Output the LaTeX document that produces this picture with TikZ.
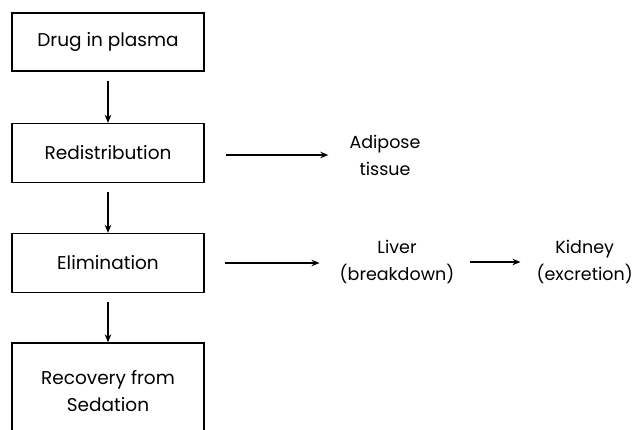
\documentclass[tikz,border=0pt]{standalone}
\usepackage{fontspec}
\setmainfont{Poppins}
\usetikzlibrary{arrows.meta}
\begin{document}
\begin{tikzpicture}[x=1pt,y=-1pt,
  stepbox/.style={draw,line width=1.3pt,minimum width=192pt,align=center,font=\fontsize{18.5}{27}\selectfont},
  lbl/.style={align=center,inner sep=0pt,font=\fontsize{17.5}{27}\selectfont},
  arr/.style={line width=1.6pt,-{Stealth[length=8pt,width=6.5pt]}}]
\clip (0,0) rectangle (635,430);
\fill[white] (0,0) rectangle (635,430);
\node[stepbox,minimum height=58pt] (drug) at (108,42) {Drug in plasma};
\node[stepbox,minimum height=59pt] (redis) at (108,153) {Redistribution};
\node[stepbox,minimum height=59pt] (elim) at (108,263) {Elimination};
\node[stepbox,minimum height=96pt] (rec) at (108,391) {Recovery from\\Sedation};
\node[lbl] (adip) at (385,155) {Adipose\\tissue};
\node[lbl] (liver) at (397,262) {Liver\\(breakdown)};
\node[lbl,anchor=east] (kid) at (633,262) {Kidney\\(excretion)};
\draw[arr] ([yshift=-9pt]drug.south) -- (redis.north);
\draw[arr] ([yshift=-9pt]redis.south) -- (elim.north);
\draw[arr] ([yshift=-9pt]elim.south) -- (rec.north);
\draw[arr] ([xshift=21pt,yshift=-2pt]redis.east) -- ([xshift=-21pt,yshift=-2pt]redis.east -| adip.west);
\draw[arr] ([xshift=20pt]elim.east) -- ([xshift=-20pt]elim.east -| liver.west);
\draw[arr] ([xshift=16pt]liver.east) -- ([xshift=66pt]liver.east);
\end{tikzpicture}
\end{document}
